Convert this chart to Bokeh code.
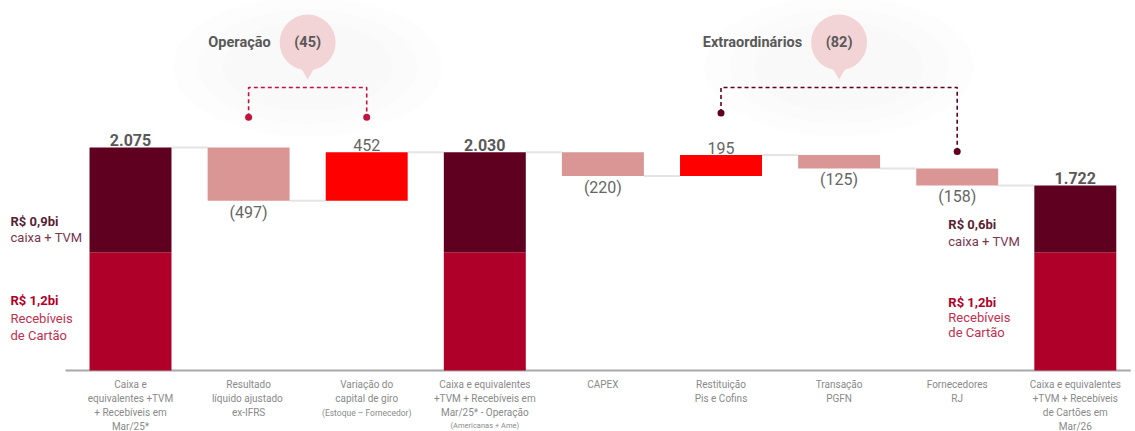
from bokeh.plotting import figure
from bokeh.models import Range1d, ColumnDataSource
from bokeh.core.properties import value
from bokeh.embed import file_html
from bokeh.resources import INLINE

# ---------------- data ----------------
category_labels = [
    "Caixa e\nequivalentes +TVM\n+ Recebíveis em\nMar/25*",
    "Resultado\nlíquido  ajustado\nex-IFRS",
    "Variação do\ncapital de giro",
    "Caixa e equivalentes\n+TVM + Recebíveis em\nMar/25* - Operação",
    "CAPEX",
    "Restituição\nPis e Cofins",
    "Transação\nPGFN",
    "Fornecedores\nRJ",
    "Caixa e equivalentes\n+TVM + Recebíveis\nde Cartões em\nMar/26",
]
category_notes = ["", "", "(Estoque – Fornecedor)", "(Americanas + Ame)", "", "", "", "", ""]
kinds = ["total", "delta", "delta", "total", "delta", "delta", "delta", "delta", "total"]
values = [2075, -497, 452, 2030, -220, 195, -125, -158, 1722]
card_receivables = [1100, 1100, 1100]          # lower segment of each total bar
note_cash = ["R$ 0,9bi", "R$ 0,6bi"]
note_card = ["R$ 1,2bi", "R$ 1,2bi"]
group_names = ["Operação", "Extraordinários"]
group_totals = [-45, -82]
group_members = [(1, 2), (5, 7)]

# ---------------- style ----------------
FONT = value("Roboto")
C_DARK = "#5f0020"
C_CARD = "#af0029"
C_NEG = "#da9694"
C_POS = "#ff0000"
C_TXT = "#595959"
C_CAT = "#8a8a8a"
BAR_W = 0.694
W, H = 1135, 431
Y0, Y1 = -567.4, 3441.9
PX = (Y1 - Y0) / H   # data units per screen pixel (vertical)
LINE = 12.8          # px per category label line


def fmt(v):
    s = f"{abs(v):,}".replace(",", ".")
    return f"({s})" if v < 0 else s


# ---------------- waterfall geometry ----------------
xs = list(range(len(values)))
bottoms, tops, levels = [], [], []
running = 0
for v, k in zip(values, kinds):
    if k == "total":
        b, t = 0, v
        running = v
    else:
        b, t = min(running, running + v), max(running, running + v)
        running += v
    bottoms.append(b)
    tops.append(t)
    levels.append(running)

p = figure(width=W, height=H, x_range=Range1d(-1.1008, 8.5097), y_range=Range1d(Y0, Y1),
           output_backend="svg", toolbar_location=None, x_axis_type=None, y_axis_type=None,
           min_border=0, outline_line_color=None)
p.background_fill_color = "white"
p.border_fill_color = "white"

# faint glow behind group annotations
for (i0, i1) in group_members:
    cx = (i0 + i1) / 2
    for w, h in [(270, 140), (220, 115), (170, 90)]:
        p.ellipse(x=[cx], y=[Y1 - 66 * PX], width=w, height=h, width_units="screen",
                  height_units="screen", fill_color="black", fill_alpha=0.006, line_color=None)

# baseline
p.segment(x0=[-0.55], y0=[0], x1=[8.47], y1=[0], line_color="#a8a8a8", line_width=2)

# connectors
cx0 = [x + BAR_W / 2 for x in xs[:-1]]
cx1 = [x + 1 - BAR_W / 2 for x in xs[:-1]]
p.segment(x0=cx0, y0=levels[:-1], x1=cx1, y1=levels[:-1], line_color="#e4e4e4", line_width=2)

# delta bars
d_idx = [i for i, k in enumerate(kinds) if k == "delta"]
dsrc = ColumnDataSource(dict(
    x=[xs[i] for i in d_idx], top=[tops[i] for i in d_idx], bottom=[bottoms[i] for i in d_idx],
    color=[C_NEG if values[i] < 0 else C_POS for i in d_idx]))
p.vbar(x="x", width=BAR_W, top="top", bottom="bottom", fill_color="color", line_color=None, source=dsrc)

# total bars (stacked)
t_idx = [i for i, k in enumerate(kinds) if k == "total"]
tsrc = ColumnDataSource(dict(
    x=[xs[i] for i in t_idx], total=[tops[i] for i in t_idx], card=card_receivables,
    zero=[0] * len(t_idx)))
p.vbar(x="x", width=BAR_W, top="card", bottom="zero", fill_color=C_CARD, line_color=None, source=tsrc)
p.vbar(x="x", width=BAR_W, top="total", bottom="card", fill_color=C_DARK, line_color=None, source=tsrc)

# value labels
above = [i for i in xs if kinds[i] == "total" or values[i] > 0]
below = [i for i in xs if kinds[i] == "delta" and values[i] < 0]
tot = [i for i in above if kinds[i] == "total"]
pos = [i for i in above if kinds[i] == "delta"]
p.text(x=[xs[i] for i in tot], y=[tops[i] for i in tot], text=[fmt(values[i]) for i in tot],
       text_font=FONT, text_font_size="16px", text_font_style="bold", text_color=C_TXT,
       text_align="center", text_baseline="bottom", y_offset=-1)
p.text(x=[xs[i] for i in pos], y=[tops[i] for i in pos], text=[fmt(values[i]) for i in pos],
       text_font=FONT, text_font_size="16px", text_color="#666666",
       text_align="center", text_baseline="bottom", y_offset=-1)
p.text(x=[xs[i] for i in below], y=[bottoms[i] for i in below], text=[fmt(values[i]) for i in below],
       text_font=FONT, text_font_size="16px", text_color="#666666",
       text_align="center", text_baseline="top", y_offset=2)

# category labels
p.text(x=xs, y=[0] * len(xs), text=category_labels, text_font=FONT, text_font_size="10px",
       text_color=C_CAT, text_align="center", text_baseline="top", text_line_height=1.28, y_offset=8)
n_lines = [lbl.count("\n") + 1 for lbl in category_labels]
note_sizes = {2: "8.5px", 3: "7.5px"}
for i in xs:
    if category_notes[i]:
        p.text(x=[xs[i]], y=[0], text=[category_notes[i]], text_font=FONT,
               text_font_size=note_sizes.get(i, "8px"), text_color=C_CAT, text_align="center",
               text_baseline="middle", y_offset=17 + LINE * n_lines[i])

# notes on the total bars (first and last)
ends = [t_idx[0], t_idx[-1]]
note_x_off = [-120, -127]
for j, i in enumerate(ends):
    card = card_receivables[t_idx.index(i)]
    common = dict(text_font=FONT, text_font_size="13px", text_align="left", text_baseline="middle",
                  x_offset=note_x_off[j])
    p.text(x=[xs[i]], y=[card], text=[note_cash[j]], text_color="#5a1f35", text_font_style="bold",
           y_offset=-31 + 3 * j, **common)
    p.text(x=[xs[i]], y=[card], text=["caixa + TVM"], text_color="#7b3550",
           y_offset=-15 + 4 * j, **common)
    p.text(x=[xs[i]], y=[card], text=[note_card[j]], text_color=C_CARD, text_font_style="bold",
           y_offset=48 + 2 * j, **common)
    p.text(x=[xs[i], xs[i]], y=[card, card], text=["Recebíveis", "de Cartão"], text_color="#c0304f",
           y_offset=[66 - j, 83 - 3 * j], **common)

# group brackets + bubbles
bubble_y = Y1 - 42 * PX
bracket_y = Y1 - 87 * PX
dot_off = [(30, 35), (42, 17)]
bracket_colors = ["#c0143c", C_DARK]
for g, (i0, i1) in enumerate(group_members):
    d0 = tops[i0] + dot_off[g][0] * PX
    d1 = tops[i1] + dot_off[g][1] * PX
    if g == 0:
        d0 = d1 = max(d0, d1)
    col = bracket_colors[g]
    p.multi_line(xs=[[xs[i0], xs[i0], xs[i1], xs[i1]]], ys=[[d0, bracket_y, bracket_y, d1]],
                 line_color=col, line_width=1.6, line_dash="4 3")
    p.scatter(x=[xs[i0], xs[i1]], y=[d0, d1], size=7, marker="circle", fill_color=col, line_color=None)
    cx = (xs[i0] + xs[i1]) / 2
    p.scatter(x=[cx], y=[bubble_y - 29 * PX], size=14, marker="inverted_triangle",
              fill_color="#f2d4d6", line_color=None)
    p.scatter(x=[cx], y=[bubble_y], size=56, marker="circle", fill_color="#f2d4d6", line_color=None)
    p.text(x=[cx], y=[bubble_y], text=[fmt(group_totals[g])], text_font=FONT, text_font_size="14.5px",
           text_font_style="bold", text_color=C_TXT, text_align="center", text_baseline="middle")
    p.text(x=[cx], y=[bubble_y], text=[group_names[g]], text_font=FONT, text_font_size="14.5px",
           text_font_style="bold", text_color=C_TXT, text_align="right", text_baseline="middle",
           x_offset=-37)

open("out.html", "w").write(file_html(p, INLINE))
